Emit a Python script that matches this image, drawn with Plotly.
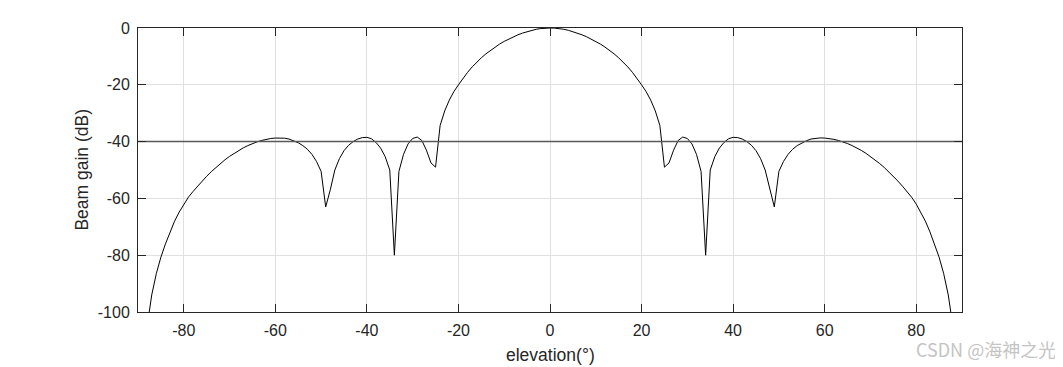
import plotly.graph_objects as go

# elevation angles (degrees), 1-degree sampling
elevation = list(range(-90, 91))

# beam gain (dB)
gain_db = [
    -160.0, -124.0, -105.0, -94.0, -86.5, -80.7, -76.0, -71.8, -68.0, -64.8,   # -90 .. -81
    -62.0, -59.6, -57.6, -55.7, -53.9, -52.2, -50.6, -49.1, -47.7, -46.4,      # -80 .. -71
    -45.2, -44.1, -43.1, -42.2, -41.4, -40.7, -40.1, -39.6, -39.2, -38.9,      # -70 .. -61
    -38.75, -38.7, -38.8, -39.1, -39.7, -40.4, -41.4, -42.7, -44.5, -47.0,     # -60 .. -51
    -50.5, -63.0, -57.0, -50.0, -46.0, -43.2, -41.3, -40.0, -39.1, -38.6,      # -50 .. -41
    -38.5, -39.0, -40.3, -42.3, -45.3, -50.0, -80.0, -50.5, -44.5, -40.8,      # -40 .. -31
    -38.9, -38.4, -39.6, -43.0, -47.5, -49.0, -34.3, -29.2, -25.4, -22.4,      # -30 .. -21
    -20.0, -17.7, -15.6, -13.7, -12.0, -10.5, -9.1, -7.85, -6.7, -5.65,        # -20 .. -11
    -4.7, -3.85, -3.08, -2.4, -1.78, -1.25, -0.8, -0.45, -0.2, -0.05,         # -10 .. -1
    0.0,                                                                      # 0
    -0.05, -0.2, -0.45, -0.8, -1.25, -1.78, -2.4, -3.08, -3.85, -4.7,         # 1 .. 10
    -5.65, -6.7, -7.85, -9.1, -10.5, -12.0, -13.7, -15.6, -17.7, -20.0,       # 11 .. 20
    -22.4, -25.4, -29.2, -34.3, -49.0, -47.5, -43.0, -39.6, -38.4, -38.9,     # 21 .. 30
    -40.8, -44.5, -50.5, -80.0, -50.0, -45.3, -42.3, -40.3, -39.0, -38.5,     # 31 .. 40
    -38.6, -39.1, -40.0, -41.3, -43.2, -46.0, -50.0, -57.0, -63.0, -50.5,     # 41 .. 50
    -47.0, -44.5, -42.7, -41.4, -40.4, -39.7, -39.1, -38.8, -38.7, -38.75,    # 51 .. 60
    -38.9, -39.2, -39.6, -40.1, -40.7, -41.4, -42.2, -43.1, -44.1, -45.2,     # 61 .. 70
    -46.4, -47.7, -49.1, -50.6, -52.2, -53.9, -55.7, -57.6, -59.6, -62.0,     # 71 .. 80
    -64.8, -68.0, -71.8, -76.0, -80.7, -86.5, -94.0, -105.0, -124.0, -160.0,  # 81 .. 90
]

# reference level line
ref_x = [-90, 90]
ref_level = [-40, -40]

x_ticks = [-80, -60, -40, -20, 0, 20, 40, 60, 80]
x_tick_labels = ["-80", "-60", "-40", "-20", "0", "20", "40", "60", "80"]
y_ticks = [-100, -80, -60, -40, -20, 0]
y_tick_labels = ["-100", "-80", "-60", "-40", "-20", "0"]

FONT = "Liberation Sans, Arial, sans-serif"
TXT = "#262626"

fig = go.Figure()
fig.add_trace(go.Scatter(x=elevation, y=gain_db, mode="lines",
                         line=dict(color="#000000", width=1), showlegend=False))
fig.add_trace(go.Scatter(x=ref_x, y=ref_level, mode="lines",
                         line=dict(color="#5a5a5a", width=1.5), showlegend=False))

axis_common = dict(
    showline=True, linecolor=TXT, linewidth=1, mirror="ticks",
    ticks="inside", ticklen=8, tickwidth=1, tickcolor=TXT,
    showgrid=True, gridcolor="#e0e0e0", gridwidth=1, zeroline=False,
    tickfont=dict(family=FONT, size=16, color=TXT),
    automargin=False, ticklabelstandoff=4,
)

fig.update_xaxes(range=[-90, 90], tickvals=x_ticks, ticktext=x_tick_labels, **axis_common)
fig.update_yaxes(range=[-100, 0], tickvals=y_ticks, ticktext=y_tick_labels, **axis_common)

# axis titles
fig.add_annotation(text="elevation(°)", xref="paper", yref="paper",
                   x=0.5, y=-0.151, xanchor="center", yanchor="middle", showarrow=False,
                   font=dict(family=FONT, size=17.5, color=TXT))
fig.add_annotation(text="Beam gain (dB)", xref="paper", yref="paper",
                   x=-0.0685, y=0.5, xanchor="center", yanchor="middle", showarrow=False,
                   textangle=-90, font=dict(family=FONT, size=17.5, color=TXT))

# watermark
fig.add_annotation(text="CSDN @海神之光", xref="paper", yref="paper",
                   x=1.1165, y=-0.130, xanchor="right", yanchor="middle", showarrow=False,
                   font=dict(family="Noto Sans CJK SC, sans-serif", size=18, color="#c4c4c4"))

# the page body adds an 8 px offset, so the figure is 8 px smaller on each axis
fig.update_layout(
    width=1055, height=359,
    margin=dict(l=130, r=101, t=20, b=55, autoexpand=False),
    paper_bgcolor="#ffffff", plot_bgcolor="#ffffff",
)

fig.write_html("out.html")
